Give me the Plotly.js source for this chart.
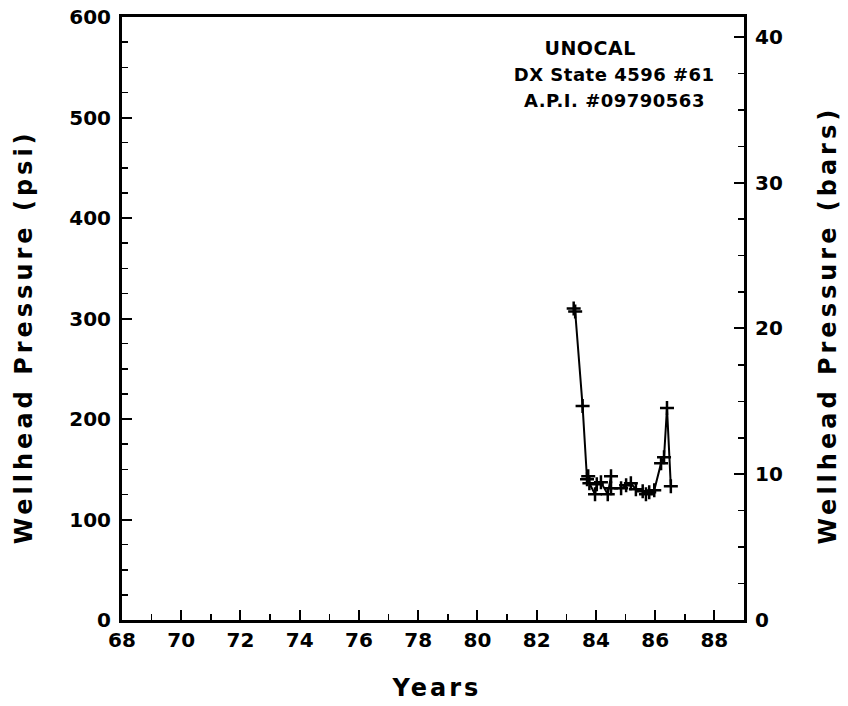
<!DOCTYPE html>
<html>
<head>
<meta charset="utf-8">
<script src="https://cdn.plot.ly/plotly-3.0.1.min.js"></script>
<style>
html,body{margin:0;padding:0;background:#fff;}
#chart g.annotation[data-index="0"] text,
#chart g.annotation[data-index="1"] text { letter-spacing: 4px; }
#chart g.annotation[data-index="2"] text { letter-spacing: 3px; }
#chart g.annotation[data-index="3"] text,
#chart g.annotation[data-index="4"] text,
#chart g.annotation[data-index="5"] text { letter-spacing: 0.5px; }
</style>
</head>
<body>
<div id="chart" style="width:848px;height:706px;"></div>
<script>
// Data
const years = [83.25, 83.30, 83.55, 83.70, 83.74, 83.78, 83.97, 84.03, 84.17, 84.40, 84.51, 84.51, 84.85, 85.02, 85.18, 85.35, 85.58, 85.69, 85.80, 85.97, 86.20, 86.30, 86.40, 86.53];
const psi   = [310, 307, 213, 140, 143, 136, 125, 135, 137, 125, 143, 131, 131, 134, 136, 130, 128, 125, 127, 129, 156, 162, 211, 133];
const PSI_PER_BAR = 14.5038;
const bars = psi.map(v => v / PSI_PER_BAR);
const xTickVals = [68, 70, 72, 74, 76, 78, 80, 82, 84, 86, 88];
const yTickVals = [0, 100, 200, 300, 400, 500, 600];
const y2TickVals = [0, 10, 20, 30, 40];
const labelLines = ["UNOCAL", "DX State 4596 #61", "A.P.I. #09790563"];

const FONT = "DejaVu Sans";
const tickFont = {family: FONT, size: 20, color: "#000", weight: 700};
const titleFont = {family: FONT, size: 24, color: "#000", weight: 700};

const traces = [
  {
    x: years, y: psi, type: "scatter", mode: "lines+markers",
    line: {color: "#000", width: 2},
    marker: {symbol: "cross-thin", size: 10, color: "#000", line: {color: "#000", width: 2.5}},
    hoverinfo: "skip", showlegend: false
  },
  {
    x: years, y: bars, yaxis: "y2", type: "scatter", mode: "lines",
    line: {color: "rgba(0,0,0,0)", width: 0},
    hoverinfo: "skip", showlegend: false
  }
];

const layout = {
  width: 848, height: 706,
  margin: {l: 122, r: 104, t: 17, b: 86},
  paper_bgcolor: "#fff", plot_bgcolor: "#fff",
  showlegend: false,
  xaxis: {
    range: [68, 89], tickvals: xTickVals, ticktext: xTickVals.map(String),
    ticks: "inside", ticklen: 10, tickwidth: 2, tickcolor: "#000",
    minor: {dtick: 1, tick0: 68, ticks: "inside", ticklen: 6, tickwidth: 1.5, tickcolor: "#000"},
    showgrid: false, zeroline: false,
    showline: true, linewidth: 3, linecolor: "#000", mirror: true,
    tickfont: tickFont, fixedrange: true
  },
  yaxis: {
    range: [0, 600], tickvals: yTickVals, ticktext: yTickVals.map(String),
    ticks: "inside", ticklen: 10, tickwidth: 2, tickcolor: "#000",
    minor: {dtick: 25, tick0: 0, ticks: "inside", ticklen: 6, tickwidth: 1.5, tickcolor: "#000"},
    showgrid: false, zeroline: false,
    showline: true, linewidth: 3, linecolor: "#000", mirror: true,
    tickfont: tickFont, ticklabelstandoff: 4, fixedrange: true
  },
  yaxis2: {
    overlaying: "y", side: "right",
    range: [0, 600 / PSI_PER_BAR], tickvals: y2TickVals, ticktext: y2TickVals.map(String),
    ticks: "inside", ticklen: 10, tickwidth: 2, tickcolor: "#000",
    minor: {dtick: 2.5, tick0: 0, ticks: "inside", ticklen: 6, tickwidth: 1.5, tickcolor: "#000"},
    showgrid: false, zeroline: false, showline: false,
    tickfont: tickFont, ticklabelstandoff: 10, fixedrange: true
  },
  annotations: [
    {text: "Wellhead Pressure (psi)", xref: "paper", yref: "paper", x: -0.158, y: 0.47,
     textangle: -90, showarrow: false, xanchor: "center", yanchor: "middle", font: titleFont},
    {text: "Wellhead Pressure (bars)", xref: "paper", yref: "paper", x: 1.135, y: 0.49,
     textangle: -90, showarrow: false, xanchor: "center", yanchor: "middle", font: titleFont},
    {text: "Years", xref: "paper", yref: "paper", x: 0.505, y: -0.113,
     showarrow: false, xanchor: "center", yanchor: "middle", font: titleFont},
    {text: labelLines[0], xref: "paper", yref: "paper", x: 0.752, y: 0.949,
     showarrow: false, xanchor: "center", yanchor: "middle",
     font: {family: FONT, size: 19, color: "#000", weight: 700}},
    {text: labelLines[1], xref: "paper", yref: "paper", x: 0.791, y: 0.904,
     showarrow: false, xanchor: "center", yanchor: "middle",
     font: {family: FONT, size: 18, color: "#000", weight: 700}},
    {text: labelLines[2], xref: "paper", yref: "paper", x: 0.791, y: 0.862,
     showarrow: false, xanchor: "center", yanchor: "middle",
     font: {family: FONT, size: 18, color: "#000", weight: 700}}
  ]
};

Plotly.newPlot("chart", traces, layout, {displayModeBar: false, staticPlot: true});
</script>
</body>
</html>
